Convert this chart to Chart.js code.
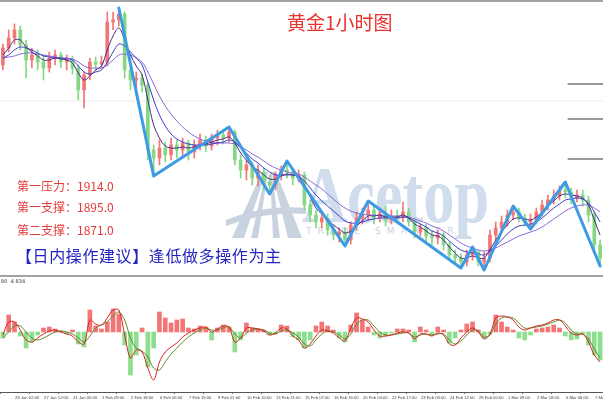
<!DOCTYPE html>
<html>
<head>
<meta charset="utf-8">
<script src="https://cdn.jsdelivr.net/npm/chart.js@4.4.0/dist/chart.umd.min.js"></script>
<style>
  html, body { margin: 0; padding: 0; background: #fff; }
  #wrap { position: relative; width: 603px; height: 402px; overflow: hidden; background: #fff; font-family: 'Noto Sans CJK SC', sans-serif; }
  .abs { position: absolute; white-space: nowrap; }
  canvas { position: absolute; left: 0; z-index: 2; }
  #main { top: 0; }
  #macd { top: 277px; }
  .bar { position: absolute; left: 0; width: 603px; height: 2px; background: #a3a3a3; z-index: 3; }
  .red { color: #e23b3b; font-size: 12px; line-height: 12px; left: 17px; z-index: 4; }
</style>
</head>
<body>
<div id="wrap">
  <!-- watermark, sits under the canvases -->
  <svg class="abs" width="80" height="72" style="left:226px;top:168px;z-index:1" fill="#c9d3df">
    <polygon points="6,70 18,70 40,4 36,4"/>
    <polygon points="25,70 32,70 42,4 40,4"/>
    <polygon points="47,70 54,70 46,4 44,4"/>
    <polygon points="62,70 76,70 50,4 46,4"/>
    <path d="M0,52 Q40,36 80,40 L80,46 Q40,43 0,58 Z"/>
  </svg>
  <div class="abs" style="left:302px;top:155px;font:bold 80px/80px 'Liberation Serif',serif;color:rgba(150,180,215,0.45);transform:scaleX(0.78);transform-origin:left top;z-index:1">Acetop</div>
  <div class="abs" style="left:306px;top:227px;font:9px/9px 'DejaVu Sans',sans-serif;letter-spacing:6px;color:#c8d4e2;z-index:1">TRADE SMARTER</div>

  <canvas id="main" width="603" height="276"></canvas>
  <canvas id="macd" width="603" height="125"></canvas>

  <div class="bar" style="top:0"></div>
  <div class="bar" style="top:275px"></div>

  <div class="abs" style="left:287px;top:12px;font-size:19px;line-height:19px;color:#e8322e;z-index:4">黄金1小时图</div>
  <div class="abs red" style="top:180px">第一压力：1914.0</div>
  <div class="abs red" style="top:201px">第一支撑：1895.0</div>
  <div class="abs red" style="top:224px">第二支撑：1871.0</div>
  <div class="abs" style="left:16px;top:247px;font-size:16px;line-height:16px;letter-spacing:0.6px;color:#2424c0;z-index:4">【日内操作建议】逢低做多操作为主</div>
  <div class="abs" style="left:1px;top:279px;font:5px/5px 'DejaVu Sans',sans-serif;color:#333;z-index:4">80 -4.834</div>
</div>

<script>
// 1H candles, one entry per bar
const opens = [1925.0,1935.2,1941.2,1946.0,1937.0,1928.0,1931.0,1926.8,1923.2,1929.2,
  1931.0,1926.8,1928.0,1923.2,1910.0,1919.0,1926.8,1925.6,1926.8,1950.8,
  1952.0,1955.6,1922.0,1916.0,1917.2,1913.0,1874.0,1869.2,1875.2,1871.0,
  1877.0,1874.0,1878.2,1872.8,1877.0,1880.0,1876.4,1881.2,1883.0,1881.2,
  1884.8,1868.0,1862.0,1865.0,1857.2,1860.8,1854.8,1853.0,1859.0,1862.0,
  1860.8,1857.2,1859.0,1841.0,1835.0,1830.8,1833.2,1826.0,1823.0,1824.8,
  1820.0,1829.0,1833.2,1835.0,1838.0,1833.2,1835.6,1832.0,1834.4,1833.2,
  1836.8,1830.8,1824.8,1827.2,1822.4,1821.2,1823.0,1817.0,1811.0,1809.2,
  1806.8,1811.0,1812.8,1806.8,1809.2,1823.0,1827.2,1830.8,1835.0,1836.8,
  1833.2,1830.8,1832.0,1836.8,1841.0,1844.0,1846.4,1850.0,1848.8,1845.2,
  1847.0,1844.0,1835.0,1817.0];
const highs = [1937.6,1946.0,1949.6,1948.4,1940.0,1935.2,1934.0,1931.0,1932.8,1934.0,
  1932.8,1931.0,1930.4,1925.0,1920.8,1929.2,1929.8,1930.4,1956.8,1956.8,
  1959.2,1956.8,1924.4,1920.8,1919.6,1914.8,1877.0,1880.0,1878.8,1881.2,
  1880.0,1881.2,1880.0,1880.0,1883.6,1882.4,1883.6,1886.0,1886.0,1887.8,
  1886.0,1871.0,1868.0,1866.8,1865.0,1863.2,1859.0,1860.8,1864.4,1867.4,
  1863.2,1862.0,1860.8,1844.0,1838.0,1836.8,1835.6,1829.0,1827.2,1827.2,
  1830.8,1836.8,1839.2,1843.4,1840.4,1839.2,1840.4,1838.0,1838.0,1842.8,
  1839.2,1833.2,1829.6,1829.6,1826.0,1826.0,1824.8,1818.8,1814.0,1811.6,
  1814.0,1815.8,1814.0,1812.8,1826.0,1830.8,1834.4,1838.0,1840.4,1839.2,
  1835.6,1835.6,1839.2,1844.0,1847.0,1850.0,1852.4,1854.8,1851.2,1850.0,
  1850.0,1846.4,1836.8,1820.0];
const lows = [1922.0,1932.8,1937.6,1934.0,1917.2,1923.2,1922.0,1916.0,1920.8,1925.0,
  1923.2,1922.0,1919.6,1904.0,1899.2,1916.0,1922.0,1923.2,1924.4,1946.0,
  1948.4,1917.2,1910.0,1911.2,1908.8,1868.0,1858.4,1865.0,1866.8,1868.0,
  1869.2,1870.4,1868.0,1869.2,1874.0,1872.8,1874.0,1877.0,1877.6,1878.8,
  1865.0,1857.2,1856.0,1853.0,1852.4,1850.0,1847.6,1850.0,1856.0,1857.2,
  1853.0,1854.8,1838.0,1830.8,1827.2,1827.2,1823.0,1820.0,1818.8,1816.4,
  1817.6,1826.0,1829.6,1832.0,1829.6,1830.8,1828.4,1829.6,1829.6,1830.8,
  1828.4,1821.2,1822.4,1818.8,1817.0,1817.6,1814.0,1808.0,1805.6,1803.2,
  1804.4,1808.0,1804.4,1802.0,1806.8,1820.0,1824.8,1828.4,1832.0,1830.8,
  1828.4,1826.6,1829.6,1834.4,1838.0,1841.6,1844.0,1845.2,1841.6,1842.8,
  1840.4,1830.8,1812.8,1804.4];
const closes = [1935.2,1941.2,1946.0,1937.0,1928.0,1931.0,1926.8,1923.2,1929.2,1931.0,
  1926.8,1928.0,1923.2,1910.0,1919.0,1926.8,1925.6,1926.8,1950.8,1952.0,
  1955.6,1922.0,1916.0,1917.2,1913.0,1874.0,1869.2,1875.2,1871.0,1877.0,
  1874.0,1878.2,1872.8,1877.0,1880.0,1876.4,1881.2,1883.0,1881.2,1884.8,
  1868.0,1862.0,1865.0,1857.2,1860.8,1854.8,1853.0,1859.0,1862.0,1860.8,
  1857.2,1859.0,1841.0,1835.0,1830.8,1833.2,1826.0,1823.0,1824.8,1820.0,
  1829.0,1833.2,1835.0,1838.0,1833.2,1835.6,1832.0,1834.4,1833.2,1836.8,
  1830.8,1824.8,1827.2,1822.4,1821.2,1823.0,1817.0,1811.0,1809.2,1806.8,
  1811.0,1812.8,1806.8,1809.2,1823.0,1827.2,1830.8,1835.0,1836.8,1833.2,
  1830.8,1832.0,1836.8,1841.0,1844.0,1846.4,1850.0,1848.8,1845.2,1847.0,
  1844.0,1835.0,1817.0,1809.2];

// moving averages (fast / mid / slow)
const maFast = [1931.0,1935.2,1940.0,1940.0,1935.8,1932.8,1930.4,1928.0,1928.0,1929.2,
  1928.6,1928.0,1926.2,1920.2,1916.0,1918.4,1922.0,1924.4,1934.0,1942.4,
  1947.2,1940.0,1931.0,1924.4,1919.0,1904.0,1889.0,1881.2,1876.4,1875.2,
  1875.2,1875.8,1875.2,1875.8,1877.0,1877.6,1878.8,1880.0,1880.6,1881.8,
  1878.2,1872.2,1868.0,1863.8,1862.0,1859.0,1856.6,1856.6,1858.4,1859.6,
  1859.0,1858.4,1853.0,1845.8,1839.2,1835.6,1832.6,1829.0,1826.6,1824.2,
  1825.4,1828.4,1831.4,1834.4,1834.4,1835.0,1833.8,1833.8,1833.8,1835.0,
  1833.2,1829.6,1827.8,1825.4,1823.0,1822.4,1820.0,1815.8,1812.2,1809.2,
  1809.2,1810.4,1809.2,1809.2,1814.0,1820.0,1824.8,1829.0,1832.6,1833.2,
  1832.6,1832.0,1833.8,1836.8,1840.4,1843.4,1846.4,1847.6,1847.0,1846.4,
  1845.2,1841.0,1832.0,1823.0];
const maMid = [1929.2,1931.0,1934.0,1935.8,1935.2,1934.0,1932.2,1930.4,1929.8,1929.2,
  1929.2,1928.6,1928.0,1924.4,1920.8,1919.6,1920.8,1922.0,1926.8,1932.8,
  1937.6,1936.4,1932.8,1929.2,1925.0,1914.8,1904.0,1895.0,1888.4,1883.6,
  1880.6,1878.8,1877.6,1877.0,1877.0,1877.0,1877.6,1878.2,1878.8,1880.0,
  1878.8,1875.2,1872.2,1868.6,1866.2,1863.2,1860.8,1859.0,1859.0,1859.0,
  1859.0,1858.4,1855.4,1851.2,1847.0,1843.4,1840.4,1837.4,1834.4,1831.4,
  1830.2,1830.2,1830.8,1832.0,1832.6,1833.2,1833.2,1833.2,1833.2,1833.8,
  1833.2,1831.4,1829.6,1827.8,1825.4,1824.2,1822.4,1819.4,1816.4,1814.0,
  1812.8,1812.2,1811.6,1811.0,1813.4,1816.4,1820.0,1823.6,1826.6,1828.4,
  1829.0,1829.6,1830.8,1833.2,1836.2,1839.2,1841.6,1844.0,1844.6,1845.2,
  1844.6,1842.2,1836.8,1830.8];
const maSlow = [1929.2,1929.8,1930.4,1931.6,1932.2,1932.2,1931.6,1931.0,1930.4,1929.8,
  1929.2,1929.2,1928.6,1926.8,1924.4,1923.2,1923.2,1923.2,1925.0,1928.0,
  1931.0,1931.6,1931.0,1929.2,1926.8,1920.8,1913.6,1906.4,1900.4,1895.6,
  1891.4,1887.8,1884.8,1882.4,1880.6,1879.4,1878.8,1878.2,1878.2,1878.2,
  1877.6,1875.8,1874.0,1871.6,1869.8,1867.4,1865.0,1863.2,1862.0,1860.8,
  1860.2,1859.6,1857.8,1855.4,1853.0,1850.6,1847.6,1844.6,1841.6,1839.2,
  1837.4,1836.2,1835.6,1835.0,1835.0,1834.4,1834.4,1834.4,1834.4,1834.4,
  1833.8,1832.6,1831.4,1830.2,1828.4,1827.2,1825.4,1823.0,1820.6,1818.2,
  1816.4,1815.2,1814.0,1813.4,1814.0,1815.2,1817.0,1818.8,1820.6,1822.4,
  1823.6,1824.8,1826.0,1827.8,1830.2,1832.6,1835.0,1837.4,1839.2,1840.4,
  1841.0,1841.0,1839.2,1836.8];

// zigzag turning points (bar index, price)
const zigIdx = [20, 26, 39, 46, 49, 59, 63, 79, 81, 83, 88, 91, 97, 103];
const zigPrice = [1959.2, 1858.4, 1887.8, 1847.6, 1867.4, 1816.4, 1843.4, 1803.2, 1815.8, 1802.0, 1840.4, 1826.6, 1854.8, 1804.4];

// horizontal levels
const levelPrices = [1913.6, 1892.6, 1868.6];
const levelFrom = 97.4;
const gridPrice = 1903.4;

// MACD panel
const macdHist = [-1.2,3.4,2.0,-0.8,-3.2,-2.0,-0.6,0.8,1.0,0.6,
  0.2,-0.4,0.4,-2.4,-3.0,4.4,1.2,0.6,2.0,4.6,
  3.6,-2.6,-8.6,-4.6,0.8,-7.0,-3.2,4.0,2.8,1.8,
  2.4,2.6,0.8,0.6,1.2,1.0,-1.6,0.8,1.4,1.0,
  -4.0,-1.6,1.8,0.8,0.6,0.4,-0.6,-0.4,1.4,1.2,
  -1.0,-1.6,-3.2,-1.6,1.2,2.0,1.2,0.4,-1.2,-2.0,
  1.4,3.8,2.4,1.0,-0.6,-1.2,-0.8,-0.2,0.6,0.6,
  0.4,-2.0,1.0,0.4,-0.6,1.0,0.4,-2.2,-1.2,0.4,
  1.6,2.0,0.4,-1.2,-0.4,3.4,2.0,1.0,0.4,-1.2,
  -1.6,-0.6,0.6,0.8,1.0,1.4,0.8,-0.8,-1.6,-1.4,
  -0.4,-2.6,-4.6,-5.6];
const macdDif = [-0.6,2.0,2.0,0.4,-1.6,-2.0,-1.2,-0.4,0.2,0.4,
  0,-0.4,-0.8,-2.0,-2.4,2.4,1.6,1.4,2.8,4.4,
  4.4,-0.6,-5.2,-3.6,-4.0,-7.2,-9.6,-6.0,-4.0,-3.0,
  -2.2,-1.0,-0.2,0.4,0.8,1.0,0,0.6,1.2,1.0,
  -2.0,-1.2,0.8,0.8,0.6,0.2,-0.6,-0.2,0.8,0.6,
  -0.8,-1.6,-3.2,-2.4,-0.8,0.4,0.2,-0.2,-1.2,-1.8,
  0.8,2.8,2.6,2.0,0.4,-0.8,-0.8,-0.6,-0.2,0,
  -0.2,-1.4,-0.4,-0.4,-0.8,-0.2,-0.6,-2.4,-2.6,-1.2,
  0,0.8,0,-1.4,-0.4,2.8,3.2,3.0,2.4,1.0,
  0.4,0.8,1.2,1.4,1.8,2.4,2.4,1.2,-0.2,-0.6,
  -0.4,-2.0,-4.6,-6.0];
const macdDea = [-1.2,0,1.2,1.2,0,-1.2,-1.6,-1.2,-0.6,0,
  0.2,0,-0.4,-1.2,-2.0,-0.8,0.8,1.4,2.0,3.2,
  4.0,2.4,-1.2,-3.2,-3.8,-5.0,-7.2,-7.6,-6.0,-4.4,
  -3.2,-2.0,-1.0,-0.2,0.4,0.8,0.4,0.4,0.8,1.0,
  -0.4,-1.2,-0.2,0.4,0.6,0.4,-0.2,-0.4,0.2,0.4,
  -0.2,-1.0,-2.4,-2.8,-1.6,-0.4,0.2,0,-0.6,-1.4,
  -0.4,1.6,2.4,2.4,1.2,0,-0.6,-0.6,-0.4,-0.2,
  -0.2,-1.0,-0.6,-0.4,-0.6,-0.4,-0.4,-1.6,-2.4,-1.8,
  -0.6,0.4,0.2,-1.0,-0.6,1.6,2.8,3.0,2.8,1.8,
  0.8,0.8,1.0,1.2,1.6,2.0,2.4,1.8,0.4,-0.4,
  -0.4,-1.4,-3.4,-5.2];

// time axis labels, one every 5 bars
const timeLabels = ['26 Jan 02:00','27 Jan 12:00','31 Jan 00:00','1 Feb 09:00','2 Feb 18:00','6 Feb 06:00',
  '7 Feb 15:00','9 Feb 01:00','10 Feb 10:00','13 Feb 21:00','15 Feb 07:00','16 Feb 16:00','20 Feb 04:00',
  '21 Feb 17:00','23 Feb 03:00','24 Feb 12:00','28 Feb 00:00','1 Mar 09:00','2 Mar 18:00','6 Mar 06:00','7 Mar 15:00'];
const labelStart = 2.1, labelStep = 5;

const UP = '#f27676', DOWN = '#84d884';
const n = closes.length;
const idx = closes.map((_, i) => i);
const candleColor = idx.map(i => closes[i] >= opens[i] ? UP : DOWN);
const xMin = -0.5, xMax = n - 0.5;

function maSet(vals, color, order) {
  return {
    type: 'line', data: vals.map((v, i) => ({ x: i, y: v })),
    borderColor: color, borderWidth: 1, pointRadius: 0, tension: 0.35, order
  };
}

function flatLine(y, from, to, color, width) {
  return {
    type: 'line', data: [{ x: from, y }, { x: to, y }],
    borderColor: color, borderWidth: width, pointRadius: 0, order: 9
  };
}

new Chart(document.getElementById('main'), {
  type: 'bar',
  data: {
    datasets: [
      flatLine(gridPrice, xMin, xMax, '#ececec', 1),
      ...levelPrices.map(p => flatLine(p, levelFrom, xMax, '#9a9a9a', 2)),
      {
        data: idx.map(i => ({ x: i, y: [lows[i], highs[i]] })),
        backgroundColor: candleColor, barThickness: 1, grouped: false, order: 5
      },
      {
        data: idx.map(i => ({ x: i, y: [opens[i], closes[i]] })),
        backgroundColor: candleColor, barThickness: 3, grouped: false, minBarLength: 1, order: 4
      },
      maSet(maSlow, '#8a68d8', 3),
      maSet(maMid, '#3c3cc8', 2),
      maSet(maFast, '#4b2a86', 1),
      {
        type: 'line', data: zigIdx.map((x, k) => ({ x, y: zigPrice[k] })),
        borderColor: '#3d9be6', borderWidth: 3, pointRadius: 0, tension: 0,
        borderCapStyle: 'round', borderJoinStyle: 'round', order: 0
      }
    ]
  },
  options: {
    responsive: false, animation: false, events: [],
    layout: { padding: 0 },
    plugins: { legend: { display: false }, tooltip: { enabled: false } },
    scales: {
      x: { type: 'linear', min: xMin, max: xMax, offset: false, display: false },
      y: { min: 1798.4, max: 1964, beginAtZero: false, display: false }
    }
  }
});

new Chart(document.getElementById('macd'), {
  type: 'bar',
  data: {
    datasets: [
      {
        data: macdHist.map((v, i) => ({ x: i, y: v })),
        backgroundColor: macdHist.map(v => v >= 0 ? 'rgba(240,84,84,0.8)' : 'rgba(112,214,112,0.8)'),
        barThickness: 4, grouped: false, order: 3
      },
      {
        type: 'line', data: macdDea.map((v, i) => ({ x: i, y: v })),
        borderColor: '#5d8a2e', borderWidth: 1, pointRadius: 0, tension: 0.35, order: 2
      },
      {
        type: 'line', data: macdDif.map((v, i) => ({ x: i, y: v })),
        borderColor: '#d62222', borderWidth: 1, pointRadius: 0, tension: 0.35, order: 1
      }
    ]
  },
  options: {
    responsive: false, animation: false, events: [],
    layout: { padding: 0 },
    plugins: { legend: { display: false }, tooltip: { enabled: false } },
    scales: {
      x: {
        type: 'linear', min: xMin, max: xMax, offset: false,
        afterBuildTicks: s => { s.ticks = timeLabels.map((_, k) => ({ value: labelStart + labelStep * k })); },
        afterFit: s => { s.height = 10; s.paddingLeft = 0; s.paddingRight = 0; },
        ticks: {
          autoSkip: false, maxRotation: 0, align: 'start', padding: 1, color: '#444',
          font: { family: "'Liberation Sans', sans-serif", size: 4.2 },
          callback: (v, i) => timeLabels[i]
        },
        grid: { drawOnChartArea: false, drawTicks: true, tickLength: 2, color: '#777' },
        border: { display: true, color: '#555', width: 1 }
      },
      y: { min: -12, max: 11, beginAtZero: false, display: false }
    }
  }
});
</script>
</body>
</html>
